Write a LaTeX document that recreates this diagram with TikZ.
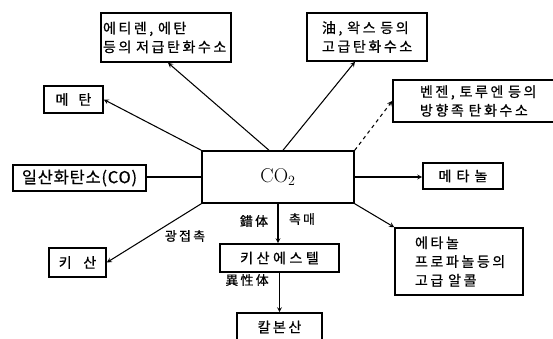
\documentclass[tikz,border=0pt]{standalone}
\usepackage{fontspec}
\newfontfamily\kr[LetterSpace=18,FakeBold=0.6]{Noto Sans CJK KR}
\begin{document}
\begin{tikzpicture}[x=0.03cm, y=-0.03cm,
    box/.style={draw, line width=1.3pt, inner sep=2pt,
      font=\kr\fontsize{12}{16}\selectfont},
    lbl/.style={font=\kr\fontsize{11}{13}\selectfont, inner sep=1pt},
    link/.style={line width=0.9pt}]
    \useasboundingbox (0,0) rectangle (553,339);

    \node[box, minimum width=4.56cm, minimum height=1.56cm] (co2) at (278,177)
      {\rmfamily\fontsize{17}{20}\selectfont CO$_2$};
    \node[box, text width=3.78cm, inner xsep=0.06cm, minimum height=1.47cm, align=left] (ethy) at (166,37.5)
      {에티렌, 에탄\\등의 저급탄화수소};
    \node[box, minimum width=1.77cm, minimum height=0.81cm] (metan) at (73.5,99.5) {메\hspace{0.3cm}탄};
    \node[box, text width=2.7cm, inner xsep=0.45cm, minimum height=1.44cm, align=left] (oil) at (367,37)
      {油, 왁스 등의\\고급탄화수소};
    \node[box, text width=3.9cm, inner xsep=0.81cm, minimum height=1.26cm, align=left] (benz) at (485,101)
      {벤젠, 토루엔 등의\\방향족 탄화수소};
    \node[box, minimum width=3.99cm, minimum height=0.78cm, font=\kr\fontsize{14}{16}\selectfont] (co) at (79.5,178)
      {\addfontfeature{LetterSpace=5}일산화탄소(CO)};
    \node[box, minimum width=2.4cm, minimum height=0.78cm] (meth) at (463,176) {메\hspace{0.15cm}타\hspace{0.15cm}놀};
    \node[box, text width=2.64cm, inner xsep=0.6cm, minimum height=2.01cm, align=left] (ethanol) at (459,261.5)
      {에타놀\\프로파놀등의\\고급 알콜};
    \node[box, minimum width=1.71cm, minimum height=0.87cm] (kisan) at (77.5,262.5) {키\hspace{0.35cm}산};
    \node[box, minimum width=3.57cm, minimum height=0.84cm] (ester) at (279.5,258)
      {\addfontfeature{LetterSpace=25}키산에스텔};
    \node[box, minimum width=2.55cm, minimum height=0.84cm] (carbon) at (279.5,327) {칼본산};

    \node[lbl] (cplx) at (254,221) {錯体};
    \node[lbl] (cat) at (302,219) {촉매};
    \node[lbl] (photo) at (185,236) {광접촉};
    \node[lbl] (isomer) at (247,280) {異性体};

    \draw[link, -stealth] ([xshift=-0.27cm]co2.north) -- ([xshift=0.06cm]ethy.south);
    \draw[link, -stealth] (co2.north west) -- (metan.east);
    \draw[link, -stealth] ([xshift=0.15cm]co2.north) -- ([xshift=-0.36cm]oil.south);
    \draw[link, dashed, -stealth] (co2.north east) -- (benz.west);
    \draw[link] (co2.west -| co.east) -- (co2.west);
    \draw[link, -stealth] (co2.east) -- (co2.east -| meth.west);
    \draw[link, -stealth] (co2.south east) -- (ethanol.north west);
    \draw[link, -stealth] (co2.south west) -- (kisan.east);
    \draw[link, -stealth] (co2.south) -- (co2.south |- ester.north);
    \draw[link, -stealth] (ester.south) -- (ester.south |- carbon.north);
\end{tikzpicture}
\end{document}
